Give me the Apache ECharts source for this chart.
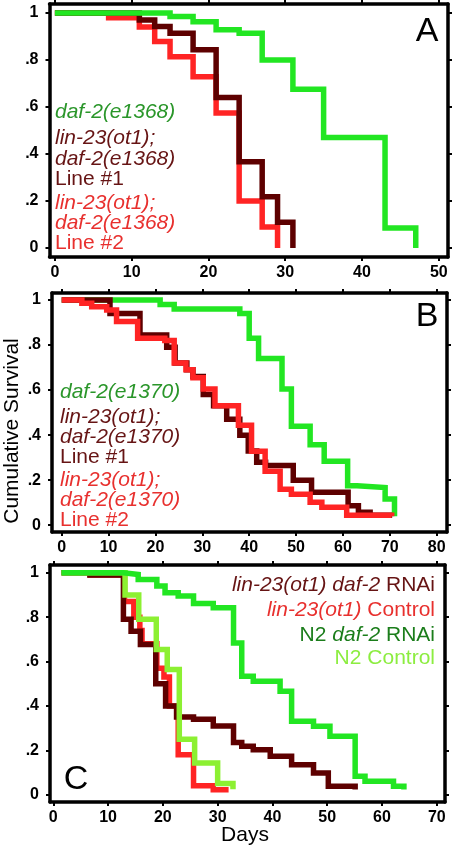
<!DOCTYPE html>
<html><head><meta charset="utf-8">
<script src="https://cdn.jsdelivr.net/npm/echarts@6/dist/echarts.min.js"></script>
<style>html,body{margin:0;padding:0;background:#fff}#c{width:453px;height:849px}</style>
</head><body><div id="c"></div>
<script>
// ---------- data ----------
const yTicks = [0, 0.2, 0.4, 0.6, 0.8, 1];
const yTickLabels = ['0', '.2', '.4', '.6', '.8', '1'];
const xTicksA = [0, 10, 20, 30, 40, 50];
const xTicksB = [0, 10, 20, 30, 40, 50, 60, 70, 80];
const xTicksC = [0, 10, 20, 30, 40, 50, 60, 70];

// Panel A  [day, survival]
const a_daf2 = [[0,1],[15,0.985],[18,0.963],[21,0.928],[24,0.914],[27,0.80],[31,0.675],[35,0.47],[43,0.085],[47,0]];
const a_line1 = [[0,1],[11,0.97],[13,0.942],[15,0.914],[18,0.843],[21,0.64],[24,0.367],[27,0.218],[29,0.11],[31,0]];
const a_line2 = [[0,1],[7,0.98],[11,0.94],[13,0.878],[15,0.814],[18,0.729],[21,0.574],[24,0.2],[27,0.09],[29,0]];

// Panel B
const b_daf2 = [[0,1],[21,0.98],[24,0.96],[38,0.94],[40,0.83],[42,0.74],[47,0.605],[49,0.44],[53,0.357],[56,0.284],[61,0.175],[63,0.167],[69,0.116],[71,0.04]];
const b_line1 = [[0,1],[10.3,0.94],[16.7,0.845],[22.4,0.79],[24.2,0.72],[26.7,0.69],[28,0.66],[30.2,0.58],[32.4,0.53],[35.2,0.47],[38,0.4],[39.8,0.33],[41.6,0.28],[43.5,0.265],[49.4,0.2],[53.3,0.146],[61.1,0.087],[63.3,0.058],[65.8,0.044],[70.5,0.044]];
const b_line2 = [[0,1],[4.3,0.985],[6.4,0.97],[9.6,0.955],[11.7,0.905],[16.2,0.83],[22,0.82],[24,0.72],[26.5,0.69],[28,0.655],[30.2,0.605],[32.7,0.53],[37.7,0.444],[40.5,0.328],[43.4,0.24],[46.6,0.16],[49,0.138],[53,0.102],[55.5,0.08],[60.8,0.044],[70.4,0.04]];

// Panel C
const c_linRNAi = [[1.5,1],[6.7,0.99],[12.8,0.79],[14.2,0.737],[15.9,0.677],[18.7,0.5],[20.5,0.4],[22.5,0.35],[25.6,0.34],[29.2,0.31],[32.9,0.235],[34.4,0.218],[36.5,0.203],[39.6,0.173],[43.5,0.135],[47.5,0.098],[50.2,0.038],[55.1,0.023]];
const c_linCtrl = [[1.5,1],[6.7,0.99],[13,0.87],[14.7,0.8],[15.8,0.74],[16.2,0.68],[18.9,0.57],[20.2,0.53],[21.2,0.4],[22.8,0.18],[25.6,0.04],[29.2,0.022],[32,0.022]];
const c_n2RNAi = [[1.5,1],[12.8,0.992],[15.5,0.97],[18.9,0.94],[20.4,0.91],[22.8,0.895],[25.6,0.862],[29.2,0.842],[32.9,0.684],[34.4,0.534],[36.5,0.511],[41.4,0.466],[43.5,0.331],[47.5,0.308],[50.5,0.263],[55.1,0.083],[56.9,0.06],[62.1,0.038],[64,0.023]];
const c_n2Ctrl = [[1.5,1],[13.1,0.9],[15.6,0.79],[18.8,0.654],[20.8,0.564],[23,0.25],[25.8,0.143],[30,0.05],[32.8,0.025]];

// ---------- styling / layout ----------
const C_GREEN = '#22e622', C_DARK = '#5e0000', C_RED = '#ff2424', C_LIGHT = '#8cf032';
const T_GREEN = '#2a962a', T_GREEN2 = '#1b7d1b', T_DARK = '#661414', T_RED = '#e8302e', T_LIGHT = '#8ced40';
const FONT = '"Liberation Sans", Arial, sans-serif';
const LFS = 21;

const panels = [
  {grid:{left:49.5, top:4, width:398.5, height:253}, x:[-0.7, 51.2], xt:xTicksA, y:[-0.038, 1.038]},
  {grid:{left:52, top:293, width:395, height:239}, x:[-2.07, 82.2], xt:xTicksB, y:[-0.03, 1.031]},
  {grid:{left:50, top:565, width:395, height:237}, x:[-0.6, 71.5], xt:xTicksC, y:[-0.033, 1.035]}
];

const lineAx = {show:true, onZero:false, lineStyle:{color:'#000', width:3.5}};
const tickSt = {color:'#000', width:2};
const labSt = {color:'#000', fontWeight:'bold', fontSize:16, fontFamily:FONT};

const grids = [], xAxes = [], yAxes = [];
panels.forEach((p, i) => {
  grids.push(Object.assign({show:false}, p.grid));
  xAxes.push({gridIndex:i, type:'value', min:p.x[0], max:p.x[1], position:'bottom',
    axisLine:lineAx, axisTick:{show:true, customValues:p.xt, length:4, lineStyle:tickSt},
    axisLabel:Object.assign({show:true, customValues:p.xt, margin:8}, labSt), splitLine:{show:false}});
  xAxes.push({gridIndex:i, type:'value', min:p.x[0], max:p.x[1], position:'top',
    axisLine:lineAx, axisTick:{show:true, customValues:p.xt, length:4, lineStyle:tickSt},
    axisLabel:{show:false}, splitLine:{show:false}});
  yAxes.push({gridIndex:i, type:'value', min:p.y[0], max:p.y[1], position:'left',
    axisLine:lineAx, axisTick:{show:true, customValues:yTicks, length:4, lineStyle:tickSt},
    axisLabel:Object.assign({show:true, customValues:yTicks, margin:11,
      formatter:v => { const k = yTicks.findIndex(t => Math.abs(t - v) < 1e-6); return k >= 0 ? yTickLabels[k] : ''; }}, labSt),
    splitLine:{show:false}});
  yAxes.push({gridIndex:i, type:'value', min:p.y[0], max:p.y[1], position:'right',
    axisLine:lineAx, axisTick:{show:true, customValues:yTicks, length:4, lineStyle:tickSt},
    axisLabel:{show:false}, splitLine:{show:false}});
});

function ser(panel, data, color) {
  return {type:'line', xAxisIndex:panel*2, yAxisIndex:panel*2, data:data, step:'end',
    symbol:'none', showSymbol:false, animation:false, silent:true,
    lineStyle:{color:color, width:5.5, join:'miter', cap:'butt'}, itemStyle:{color:color}};
}

const series = [
  ser(0, a_line2, C_RED), ser(0, a_line1, C_DARK), ser(0, a_daf2, C_GREEN),
  ser(1, b_daf2, C_GREEN), ser(1, b_line1, C_DARK), ser(1, b_line2, C_RED),
  ser(2, c_linCtrl, C_RED), ser(2, c_linRNAi, C_DARK), ser(2, c_n2Ctrl, C_LIGHT), ser(2, c_n2RNAi, C_GREEN)
];

function txt(x, y, text, color, opts) {
  return {type:'text', x:x, y:y, silent:true, style:Object.assign({text:text, fill:color,
    fontSize:LFS, fontFamily:FONT, align:'left', verticalAlign:'middle'}, opts || {})};
}
const IT = {fontStyle:'italic'};
function rich(x, y, text, color) {
  return {type:'text', x:x, y:y, silent:true, style:{text:text, align:'right', verticalAlign:'middle',
    fontSize:LFS, fontFamily:FONT, fill:color,
    rich:{i:{fontStyle:'italic', fontSize:LFS, fontFamily:FONT, fill:color}, n:{fontSize:LFS, fontFamily:FONT, fill:color}}}};
}

const graphics = [
  // Panel A legend
  txt(55, 112, 'daf-2(e1368)', T_GREEN, IT),
  txt(55, 138, 'lin-23(ot1);', T_DARK, IT),
  txt(55, 159, 'daf-2(e1368)', T_DARK, IT),
  txt(55, 179, 'Line #1', T_DARK),
  txt(55, 203, 'lin-23(ot1);', T_RED, IT),
  txt(55, 223, 'daf-2(e1368)', T_RED, IT),
  txt(55, 243, 'Line #2', T_RED),
  // Panel B legend
  txt(60, 392, 'daf-2(e1370)', T_GREEN, IT),
  txt(60, 417, 'lin-23(ot1);', T_DARK, IT),
  txt(60, 437, 'daf-2(e1370)', T_DARK, IT),
  txt(60, 457, 'Line #1', T_DARK),
  txt(60, 480, 'lin-23(ot1);', T_RED, IT),
  txt(60, 500, 'daf-2(e1370)', T_RED, IT),
  txt(60, 520, 'Line #2', T_RED),
  // Panel C legend (right aligned)
  rich(435, 585, '{i|lin-23(ot1) daf-2} {n|RNAi}', T_DARK),
  rich(435, 610, '{i|lin-23(ot1)} {n|Control}', T_RED),
  rich(435, 635, '{n|N2} {i|daf-2} {n|RNAi}', T_GREEN2),
  txt(435, 658, 'N2 Control', T_LIGHT, {align:'right'}),
  // Panel letters
  txt(427, 32, 'A', '#000', {fontSize:34, align:'center'}),
  txt(427, 317, 'B', '#000', {fontSize:34, align:'center'}),
  txt(76, 780, 'C', '#000', {fontSize:34, align:'center'}),
  // Axis titles
  {type:'text', x:12, y:431, rotation:Math.PI/2, silent:true,
    style:{text:'Cumulative Survival', fill:'#000', fontSize:21, fontFamily:FONT, align:'center', verticalAlign:'middle'}},
  txt(245, 835, 'Days', '#000', {fontSize:21, align:'center'})
];

const chart = echarts.init(document.getElementById('c'), null, {renderer:'canvas'});
chart.setOption({
  animation:false,
  backgroundColor:'#fff',
  grid:grids, xAxis:xAxes, yAxis:yAxes, series:series, graphic:graphics
});
</script>
</body></html>
